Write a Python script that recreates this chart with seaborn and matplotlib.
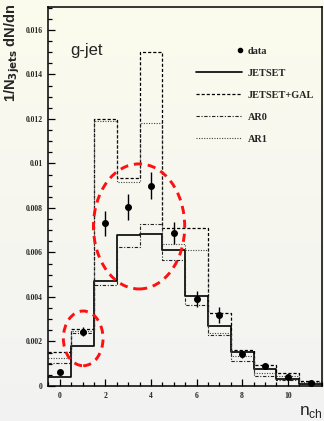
import numpy as np
import pandas as pd
import matplotlib
matplotlib.use("Agg")
import matplotlib.pyplot as plt
from matplotlib.patches import Ellipse
from matplotlib.lines import Line2D
from matplotlib.legend_handler import HandlerLine2D
from matplotlib.ticker import MultipleLocator, FuncFormatter
import seaborn as sns

# Charged multiplicity of the gluon jet, normalised per 3-jet event
n_ch = list(range(12))
data_val = [0.00061, 0.00244, 0.00731, 0.00804, 0.00900, 0.00686,
            0.00391, 0.00319, 0.00145, 0.00090, 0.00042, 0.00015]
data_err = [0.00010, 0.00020, 0.00055, 0.00058, 0.00060, 0.00050,
            0.00037, 0.00037, 0.00017, 0.00012, 0.00010, 0.00006]
jetset = [0.00040, 0.00180, 0.00472, 0.00679, 0.00685, 0.00611,
          0.00406, 0.00268, 0.00151, 0.00078, 0.00030, 0.00010]
jetset_gal = [0.00154, 0.00258, 0.01200, 0.00933, 0.01500, 0.00710,
              0.00710, 0.00330, 0.00163, 0.00093, 0.00060, 0.00024]
ar0 = [0.00102, 0.00240, 0.00454, 0.00624, 0.00728, 0.00566,
       0.00366, 0.00229, 0.00112, 0.00046, 0.00025, 0.00010]
ar1 = [0.00124, 0.00246, 0.01190, 0.00915, 0.01180, 0.00640,
       0.00610, 0.00240, 0.00135, 0.00060, 0.00045, 0.00020]

model_names = ["JETSET", "JETSET+GAL", "AR0", "AR1"]
model_values = [jetset, jetset_gal, ar0, ar1]

sns.set_style("ticks")
plt.rcParams["font.family"] = ["Liberation Serif", "DejaVu Serif"]

W, H = 324, 421
fig = plt.figure(figsize=(W / 100, H / 100), dpi=100)

# soft cream-to-grey page background
bg = fig.add_axes([0, 0, 1, 1], zorder=-10)
grad = np.linspace(0, 1, 256)[:, None]
top = np.array([0.985, 0.985, 0.93])
bot = np.array([0.95, 0.95, 0.95])
img = top[None, None, :] * (1 - grad[:, :, None]) + bot[None, None, :] * grad[:, :, None]
bg.imshow(img, aspect="auto", extent=[0, 1, 0, 1], origin="upper")
bg.axis("off")

ax = fig.add_axes([48.3 / W, (H - 386) / H, (322 - 48.3) / W, (386 - 7) / H])
ax.set_facecolor("none")

styles = {
    "JETSET": dict(linestyle="-", linewidth=1.2, color="black"),
    "JETSET+GAL": dict(linestyle=(0, (2.5, 1.6)), linewidth=0.9, color="black"),
    "AR0": dict(linestyle=(0, (3.0, 1.5, 1.0, 1.5)), linewidth=0.8, color="#222222"),
    "AR1": dict(linestyle=(0, (1.0, 1.3)), linewidth=0.8, color="#444444"),
}

frames = []
for name, vals in zip(model_names, model_values):
    frames.append(pd.DataFrame({"n": n_ch, "w": vals, "model": name}))
models = pd.concat(frames, ignore_index=True)

for name in model_names:
    sub = models[models["model"] == name]
    sns.histplot(data=sub, x="n", weights="w", discrete=True, element="step",
                 fill=False, ax=ax, **styles[name])

ax.errorbar(n_ch, data_val, yerr=data_err, fmt="o", color="black",
            markersize=4, elinewidth=1.0, capsize=0, zorder=5)

ax.set_xlim(-0.5, 11.5)
ax.set_ylim(0, 0.01703)
ax.set_xlabel("")
ax.set_ylabel("")

ax.xaxis.set_major_locator(MultipleLocator(2))
ax.xaxis.set_minor_locator(MultipleLocator(0.5))
ax.yaxis.set_major_locator(MultipleLocator(0.002))
ax.yaxis.set_minor_locator(MultipleLocator(0.0005))
ax.yaxis.set_major_formatter(FuncFormatter(lambda v, p: f"{v:g}"))
ax.tick_params(which="both", direction="in", top=False, right=False,
               width=0.9, color="black")
ax.tick_params(which="major", length=5, labelsize=5.5, pad=4)
ax.tick_params(which="minor", length=3)
for lab in ax.get_xticklabels() + ax.get_yticklabels():
    lab.set_fontweight("bold")
for sp in ax.spines.values():
    sp.set_visible(True)
    sp.set_linewidth(1.1)
    sp.set_color("black")

# highlighted regions
ax.add_patch(Ellipse((3.48, 0.00717), width=4.0, height=0.00562, fill=False,
                     edgecolor="#ff1010", linewidth=2.1,
                     linestyle=(0, (2.8, 2.0)), zorder=6))
ax.add_patch(Ellipse((1.03, 0.00214), width=1.74, height=0.00246, fill=False,
                     edgecolor="#ff1010", linewidth=2.1,
                     linestyle=(0, (2.8, 2.0)), zorder=6))

ax.text(0.079, 0.885, "g-jet", transform=ax.transAxes, ha="left", va="center",
        fontsize=12, family=["Liberation Sans", "DejaVu Sans"])


class MarkerAtEnd(HandlerLine2D):
    """Single legend marker placed near the right end of the handle."""
    def get_xdata(self, legend, xdescent, ydescent, width, height, fontsize):
        x = np.array([-xdescent + 0.95 * width])
        return x, x


data_handle = Line2D([], [], linestyle="none", marker="o", color="black",
                     markersize=3)
handles = [data_handle]
for name in model_names:
    handles.append(Line2D([], [], **styles[name]))
leg = ax.legend(handles, ["data"] + model_names, loc="upper left",
                bbox_to_anchor=(0.54, 0.895), frameon=False, handlelength=4.5,
                handletextpad=0.55, labelspacing=1.24, borderpad=0,
                borderaxespad=0, handler_map={data_handle: MarkerAtEnd()},
                prop=dict(family="Liberation Serif", weight="bold", size=7.4))

fig.text(12 / W, 1 - 4 / H, r"1/N$_{\mathbf{3jets}}$ dN/dn", rotation=90,
         ha="center", va="top", fontsize=10.5, fontweight="bold",
         family=["Liberation Sans", "DejaVu Sans"])
fig.text(299 / W, (H - 415) / H, r"n$_{\mathregular{ch}}$", ha="left",
         va="baseline", fontsize=12.5, family=["Liberation Sans", "DejaVu Sans"])

fig.savefig("out.png", dpi=100)
